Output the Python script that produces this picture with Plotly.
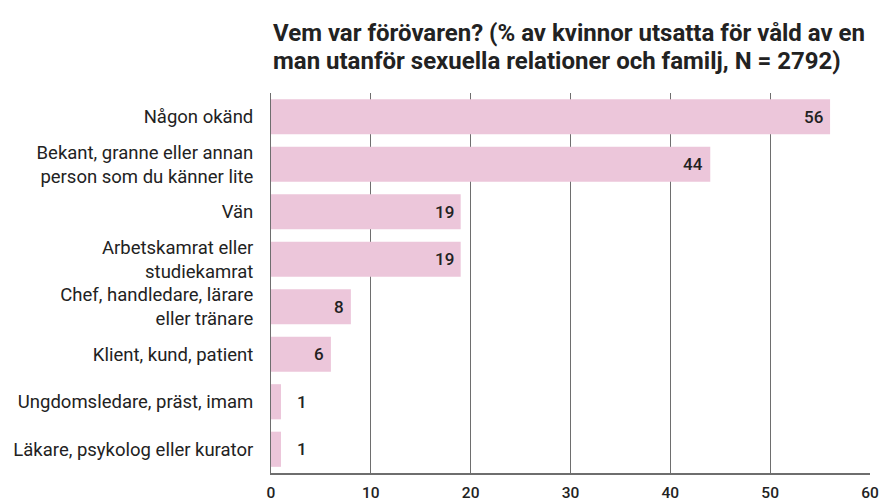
import plotly.graph_objects as go

categories = [
    "Någon okänd",
    "Bekant, granne eller annan<br>person som du känner lite",
    "Vän",
    "Arbetskamrat eller<br>studiekamrat",
    "Chef, handledare, lärare<br>eller tränare",
    "Klient, kund, patient",
    "Ungdomsledare, präst, imam",
    "Läkare, psykolog eller kurator",
]
values = [56, 44, 19, 19, 8, 6, 1, 1]
x_ticks = [0, 10, 20, 30, 40, 50, 60]
title_lines = [
    "Vem var förövaren? (% av kvinnor utsatta för våld av en",
    "man utanför sexuella relationer och familj, N = 2792)",
]

FONT = "Roboto"
TEXT = "#222222"
BAR = "#ecc6da"
GRID = "#6e6e6e"

fig = go.Figure()
fig.add_trace(go.Bar(
    x=values, y=categories, orientation="h",
    marker=dict(color=BAR, line=dict(width=0)),
    hoverinfo="skip",
))

for c, v in zip(categories, values):
    inside = v >= 5
    fig.add_annotation(
        x=v, y=c, xref="x", yref="y", text=str(v), showarrow=False,
        xanchor="right" if inside else "left",
        xshift=-5 if inside else 14,
        font=dict(family=FONT, size=17, color=TEXT, weight=500),
    )

# title lines as left-aligned annotations above the plot area
for i, line in enumerate(title_lines):
    fig.add_annotation(
        x=0, y=1, xref="paper", yref="paper", xanchor="left", yanchor="middle",
        yshift=60 - 28 * i, text=line, showarrow=False, align="left",
        font=dict(family=FONT, size=24, color=TEXT, weight="bold"),
    )

fig.update_layout(
    width=882, height=503,
    margin=dict(l=271, r=12, t=93, b=30, autoexpand=False),
    paper_bgcolor="white", plot_bgcolor="white",
    bargap=0.26,
    showlegend=False,
    font=dict(family=FONT, color=TEXT),
)
fig.update_xaxes(
    range=[0, 60], tickvals=x_ticks, ticktext=[str(t) for t in x_ticks],
    showgrid=True, gridcolor=GRID, gridwidth=1,
    zeroline=False, showline=True, linecolor=GRID, linewidth=1.5,
    ticks="outside", ticklen=5, tickcolor="rgba(0,0,0,0)",
    tickfont=dict(family=FONT, size=15.5, color=TEXT, weight=500),
    automargin=False, fixedrange=True,
)
fig.update_yaxes(
    autorange="reversed", showgrid=False, zeroline=False,
    showline=True, linecolor=GRID, linewidth=1,
    ticks="outside", ticklen=13, tickcolor="rgba(0,0,0,0)",
    tickfont=dict(family=FONT, size=18.5, color=TEXT),
    automargin=False, fixedrange=True,
)

fig.write_html("out.html",
               config={"displayModeBar": False},
               post_script="document.body.style.margin='0';document.body.style.padding='0';")
